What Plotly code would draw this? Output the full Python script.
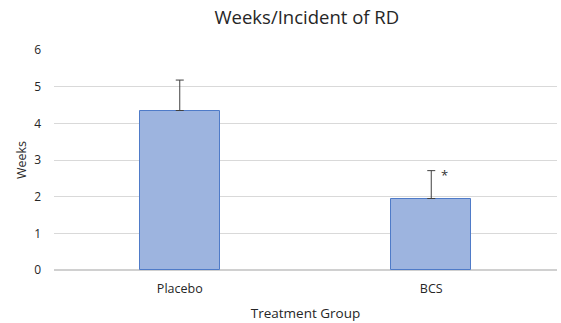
import plotly.graph_objects as go

categories = ["Placebo", "BCS"]
values = [4.35, 1.95]
errors = [0.83, 0.76]
y_ticks = [0, 1, 2, 3, 4, 5, 6]

fig = go.Figure()
fig.add_trace(go.Bar(
    x=categories, y=values,
    width=0.32,
    marker=dict(color="#9DB4DF", line=dict(color="#4F7BC8", width=1)),
    error_y=dict(type="data", array=errors, symmetric=False, arrayminus=[0, 0],
                 color="#404040", thickness=1, width=4),
))
fig.add_annotation(x="BCS", y=values[1] + errors[1], text="*", showarrow=False,
                   xshift=13, yshift=-4, font=dict(size=13, color="#333333"))

fig.update_layout(
    width=561, height=323,
    margin=dict(l=54, r=4, t=50, b=53),
    paper_bgcolor="white", plot_bgcolor="white",
    font=dict(family="Open Sans, Liberation Sans, sans-serif", color="#262626"),
    title=dict(text="Weeks/Incident of RD", x=0.547, xanchor="center", y=0.945, yanchor="middle",
               font=dict(size=18.5, color="#262626")),
    showlegend=False,
    bargap=0,
)
fig.update_yaxes(range=[0, 6], tickvals=y_ticks, showgrid=True, gridcolor="#D9D9D9", gridwidth=1,
                 zeroline=True, zerolinecolor="#D0D0D0", zerolinewidth=1.5, showline=False, automargin=False,
                 tickfont=dict(size=12, color="#262626"), ticks="", ticklabelstandoff=12,
                 title=dict(text="Weeks", font=dict(size=12.5, color="#262626"), standoff=4))
fig.update_xaxes(showgrid=False, showline=False, ticks="", automargin=False,
                 tickfont=dict(size=12.5, color="#262626"), ticklabelstandoff=9,
                 title=dict(text="Treatment Group", font=dict(size=13.5, color="#262626"), standoff=13))

fig.write_html("out.html", config={"displayModeBar": False},
               post_script="document.body.style.margin='0';document.body.style.overflow='hidden';")
